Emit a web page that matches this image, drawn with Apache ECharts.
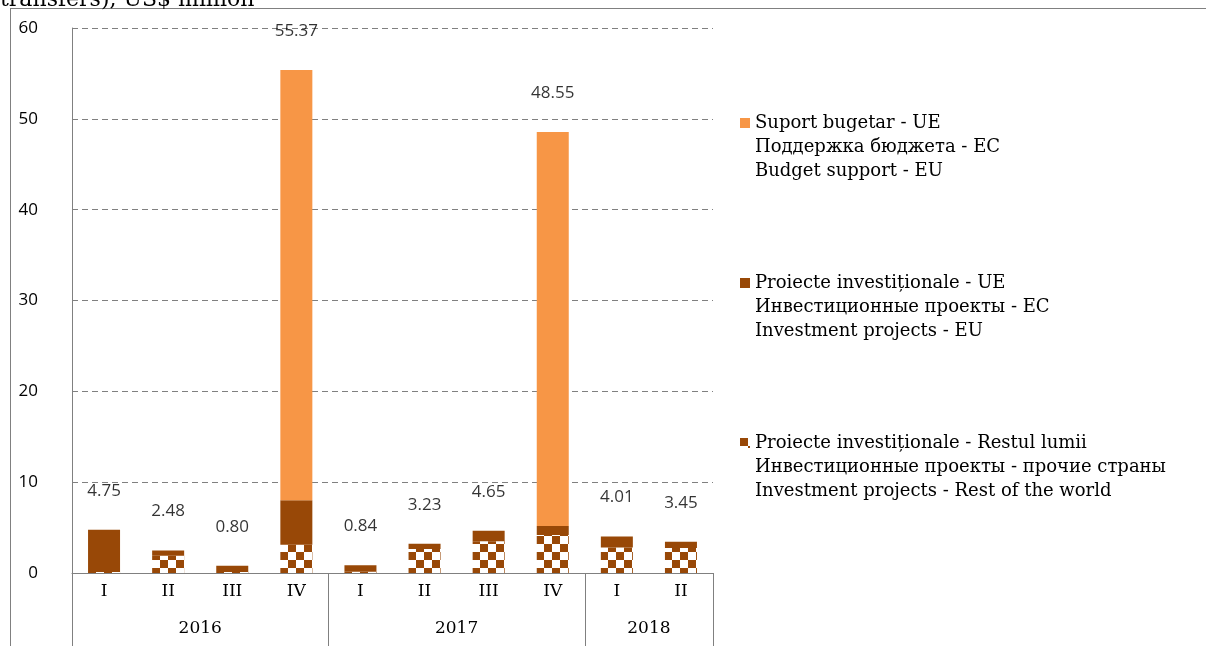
<!DOCTYPE html>
<html lang="en">
<head>
    <meta charset="UTF-8">
    <title>Transfers chart</title>
    <script src="https://cdn.jsdelivr.net/npm/echarts@6/dist/echarts.min.js"></script>
    <style>
        html, body { margin: 0; padding: 0; background: #fff; }
        #main { width: 1206px; height: 646px; }
    </style>
</head>
<body>
<div id="main"></div>
<script>
    var quarters = ['I', 'II', 'III', 'IV', 'I', 'II', 'III', 'IV', 'I', 'II'];
    var years = ['2016', '2017', '2018'];
    var quartersPerYear = [4, 4, 2];

    var restWorld = [0.1, 1.9, 0.1, 3.1, 0.15, 2.64, 3.5, 4.17, 2.8, 2.75];
    var investEU = [4.65, 0.58, 0.7, 4.9, 0.69, 0.59, 1.15, 1.0, 1.21, 0.7];
    var budgetEU = [0, 0, 0, 47.37, 0, 0, 0, 43.38, 0, 0];

    var yTicks = [0, 10, 20, 30, 40, 50, 60];

    var nameBudget = 'Suport bugetar - UE\nПоддержка бюджета - ЕС\nBudget support - EU';
    var nameInvest = 'Proiecte investiționale - UE\nИнвестиционные проекты - ЕС\nInvestment projects - EU';
    var nameRest = 'Proiecte investiționale - Restul lumii\nИнвестиционные проекты - прочие страны\nInvestment projects - Rest of the world';

    var brown = '#984807';
    var orange = '#f79646';
    var serif = 'DejaVu Serif';
    var sans = 'Open Sans';

    // totals shown over the bars
    var totals = [];
    for (var i = 0; i < quarters.length; i++) {
        totals.push(+(restWorld[i] + investEU[i] + budgetEU[i]).toFixed(2));
    }

    // year boundaries and centres on the second axis
    var bounds = [0];
    var centres = [];
    var acc = 0;
    for (var k = 0; k < quartersPerYear.length; k++) {
        centres.push(acc + quartersPerYear[k] / 2);
        acc += quartersPerYear[k];
        bounds.push(acc);
    }

    // checkered fill
    var cv = document.createElement('canvas');
    cv.width = 16;
    cv.height = 16;
    var ctx = cv.getContext('2d');
    ctx.fillStyle = '#ffffff';
    ctx.fillRect(0, 0, 16, 16);
    ctx.fillStyle = brown;
    ctx.fillRect(0, 0, 8, 8);
    ctx.fillRect(8, 8, 8, 8);
    var checker = { image: cv, repeat: 'repeat' };

    var mychart = echarts.init(document.getElementById('main'));

    var option = {
        backgroundColor: '#fff',
        animation: false,
        graphic: [
            { type: 'line', shape: { x1: 10, y1: 8.5, x2: 1206, y2: 8.5 }, style: { stroke: '#808080', lineWidth: 1 } },
            { type: 'line', shape: { x1: 10.5, y1: 8, x2: 10.5, y2: 646 }, style: { stroke: '#808080', lineWidth: 1 } },
            { type: 'text', left: 0, top: -11, style: { text: 'transfers), US$ million', font: '22px "DejaVu Serif"', fill: '#000' } }
        ],
        legend: {
            orient: 'vertical',
            left: 740,
            top: 63,
            padding: 0,
            itemGap: 40,
            itemWidth: 10,
            itemHeight: 10,
            icon: 'rect',
            selectedMode: false,
            data: [nameBudget, nameInvest, nameRest],
            // two blank lines first so the square sits on the first line
            formatter: function (name) { return '\n\n' + name; },
            textStyle: {
                fontFamily: serif,
                fontSize: 18,
                lineHeight: 24,
                color: '#000'
            }
        },
        grid: {
            left: 72,
            right: 493,
            top: 28,
            bottom: 73
        },
        xAxis: [{
            type: 'category',
            data: quarters,
            axisLine: { lineStyle: { color: '#808080', width: 1 } },
            axisTick: { show: false },
            axisLabel: { fontFamily: serif, fontSize: 17, color: '#000', margin: 10 }
        }, {
            type: 'value',
            position: 'bottom',
            min: 0,
            max: quarters.length,
            axisLine: { show: false },
            splitLine: { show: false },
            axisTick: {
                show: true,
                customValues: bounds,
                length: 80,
                lineStyle: { color: '#808080', width: 1 }
            },
            axisLabel: {
                customValues: centres,
                fontFamily: serif,
                fontSize: 17,
                color: '#000',
                margin: 47,
                formatter: function (v) {
                    var idx = centres.indexOf(v);
                    return idx >= 0 ? years[idx] : '';
                }
            }
        }],
        yAxis: {
            type: 'value',
            min: yTicks[0],
            max: yTicks[yTicks.length - 1],
            interval: 10,
            axisLine: { show: true, lineStyle: { color: '#808080', width: 1 } },
            axisTick: { show: false },
            axisLabel: { fontFamily: sans, fontSize: 17, color: '#000', margin: 34 },
            splitLine: { lineStyle: { color: '#808080', type: [6, 4], width: 1 } }
        },
        series: [{
            name: nameRest,
            type: 'bar',
            stack: 'all',
            barWidth: 32,
            itemStyle: { color: checker },
            data: restWorld
        }, {
            name: nameInvest,
            type: 'bar',
            stack: 'all',
            barWidth: 32,
            itemStyle: { color: brown },
            data: investEU
        }, {
            name: nameBudget,
            type: 'bar',
            stack: 'all',
            barWidth: 32,
            itemStyle: { color: orange },
            data: budgetEU
        }, {
            name: 'total',
            type: 'scatter',
            data: totals,
            symbolSize: 1,
            itemStyle: { color: 'rgba(0,0,0,0)' },
            label: {
                show: true,
                position: 'top',
                distance: 30,
                fontFamily: sans,
                fontSize: 17,
                color: '#000',
                formatter: function (p) { return p.value.toFixed(2); }
            }
        }]
    };
    mychart.setOption(option);
</script>
</body>
</html>
